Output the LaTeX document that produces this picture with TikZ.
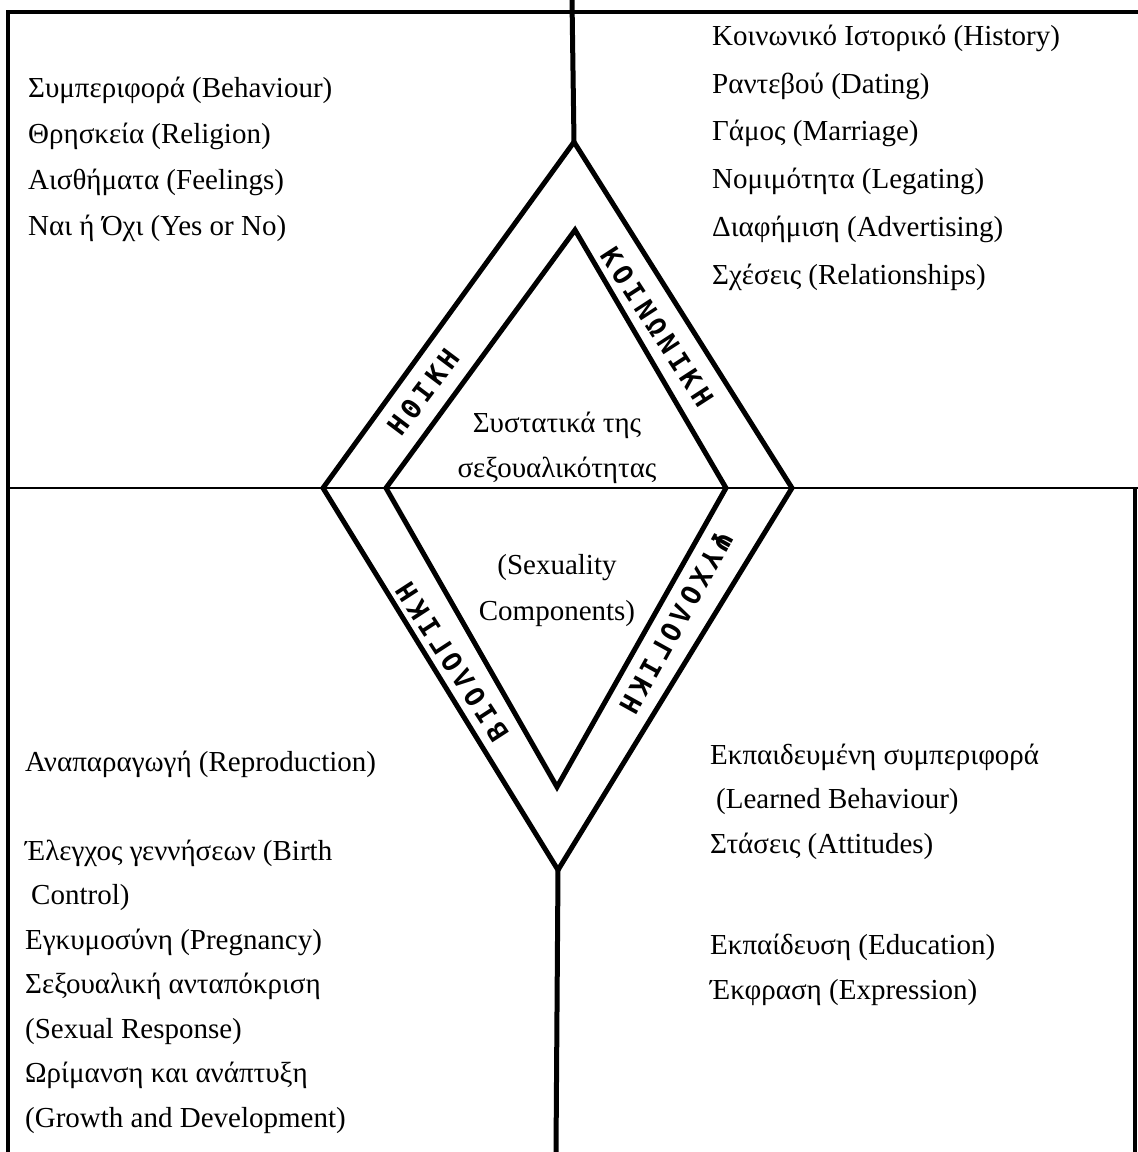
\documentclass[tikz,border=0pt]{standalone}
\usepackage{fontspec}
\setmainfont{Liberation Serif}
\newfontfamily\bandfont{DejaVu Sans Mono}
\newcommand{\bk}{\kern 4.5pt}
\begin{document}
\begin{tikzpicture}[x=1pt,y=-1pt,
  txt/.style={anchor=west, inner sep=0pt, text height=21pt, text depth=7pt, font=\fontsize{29}{32}\selectfont},
  ctxt/.style={inner sep=0pt, text height=21pt, text depth=7pt, font=\fontsize{29}{32}\selectfont},
  band/.style={inner sep=0pt, font=\bandfont\bfseries\fontsize{27}{28}\selectfont},
  frameline/.style={line width=3.5pt},
  midline/.style={line width=2.2pt},
  dialine/.style={line width=5pt, line join=miter, line cap=round}]
\useasboundingbox (0,0) rectangle (1138,1152);
% frame coordinates
\coordinate (tl) at (8,12);
\coordinate (tr) at (1138,12);
\coordinate (bl) at (8,1152);
\coordinate (ml) at (8,488);
\coordinate (mr) at (1138,488);
\coordinate (rm) at (1135,488);
\coordinate (rb) at (1135,1152);
\coordinate (vtop) at (572,0);
\coordinate (vbot) at (556,1152);
% outer diamond
\coordinate (oT) at (574,142);
\coordinate (oR) at (792,488);
\coordinate (oB) at (558,870);
\coordinate (oL) at (323,488);
% inner diamond
\coordinate (iT) at (575,230);
\coordinate (iR) at (726,488);
\coordinate (iB) at (557,787);
\coordinate (iL) at (386,488);
% frame
\draw[frameline] (bl) -- (tl) -- (tr);
\draw[midline] (ml) -- (mr);
\draw[frameline] (rm) -- (rb);
\draw[dialine] (vtop) -- (oT);
\draw[dialine] (oB) -- (vbot);
\draw[dialine] (oT) -- (oR) -- (oB) -- (oL) -- cycle;
\draw[dialine] (iT) -- (iR) -- (iB) -- (iL) -- cycle;
% band labels
\node[band, rotate=53] (ethiki) at (424,392) {Η\bk Θ\bk Ι\bk Κ\bk Η};
\node[band, rotate=-57] (koinoniki) at (657,327) {Κ\bk Ο\bk Ι\bk Ν\bk Ω\bk Ν\bk Ι\bk Κ\bk Η};
\node[band, rotate=123] (viologiki) at (452,662) {Β\bk Ι\bk Ο\bk Λ\bk Ο\bk Γ\bk Ι\bk Κ\bk Η};
\node[band, rotate=-119] (psychologiki) at (676,623) {Ψ\bk Υ\bk Χ\bk Ο\bk Λ\bk Ο\bk Γ\bk Ι\bk Κ\bk Η};
% centre text
\node[ctxt] (c1) at (557,425) {Συστατικά της};
\node[ctxt] (c2) at (557,470) {σεξουαλικότητας};
\node[ctxt] (c3) at (557,567) {(Sexuality};
\node[ctxt] (c4) at (557,613) {Components)};
% top left
\node[txt] (tl1) at (28,90) {Συμπεριφορά (Behaviour)};
\node[txt] (tl2) at (28,136) {Θρησκεία (Religion)};
\node[txt] (tl3) at (28,182) {Αισθήματα (Feelings)};
\node[txt] (tl4) at (28,228) {Ναι ή Όχι (Yes or No)};
% top right
\node[txt] (tr1) at (712,38) {Κοινωνικό Ιστορικό (History)};
\node[txt] (tr2) at (712,86) {Ραντεβού (Dating)};
\node[txt] (tr3) at (712,133) {Γάμος (Marriage)};
\node[txt] (tr4) at (712,181) {Νομιμότητα (Legating)};
\node[txt] (tr5) at (712,229) {Διαφήμιση (Advertising)};
\node[txt] (tr6) at (712,277) {Σχέσεις (Relationships)};
% bottom left
\node[txt] (bl1) at (25,764) {Αναπαραγωγή (Reproduction)};
\node[txt] (bl2) at (25,853) {Έλεγχος γεννήσεων (Birth};
\node[txt] (bl3) at (31,897) {Control)};
\node[txt] (bl4) at (25,942) {Εγκυμοσύνη (Pregnancy)};
\node[txt] (bl5) at (25,986) {Σεξουαλική ανταπόκριση};
\node[txt] (bl6) at (25,1031) {(Sexual Response)};
\node[txt] (bl7) at (25,1075) {Ωρίμανση και ανάπτυξη};
\node[txt] (bl8) at (25,1120) {(Growth and Development)};
% bottom right
\node[txt] (br1) at (710,757) {Εκπαιδευμένη συμπεριφορά};
\node[txt] (br2) at (716,801) {(Learned Behaviour)};
\node[txt] (br3) at (710,846) {Στάσεις (Attitudes)};
\node[txt] (br4) at (710,947) {Εκπαίδευση (Education)};
\node[txt] (br5) at (710,992) {Έκφραση (Expression)};
\end{tikzpicture}
\end{document}
